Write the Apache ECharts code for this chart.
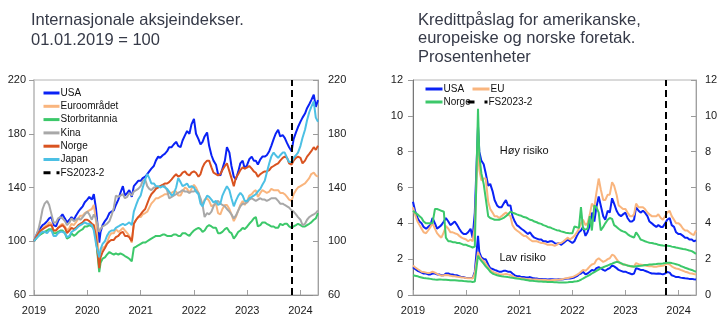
<!DOCTYPE html>
<html><head><meta charset="utf-8">
<script src="https://cdn.jsdelivr.net/npm/echarts@6/dist/echarts.min.js"></script>
<style>html,body{margin:0;padding:0;background:#fff}#c{width:722px;height:327px}</style>
</head><body><div id="c"></div>
<script>
// ---------- categories (semi-monthly observation dates) ----------
const dates = [
'2019-01-01','2019-01-15','2019-02-01','2019-02-15','2019-03-01','2019-03-15','2019-04-01','2019-04-15','2019-05-01','2019-05-15','2019-06-01','2019-06-15','2019-07-01','2019-07-15','2019-08-01','2019-08-15','2019-09-01','2019-09-15','2019-10-01','2019-10-15','2019-11-01','2019-11-15','2019-12-01','2019-12-15',
'2020-01-01','2020-01-15','2020-02-01','2020-02-15','2020-03-01','2020-03-23','2020-04-01','2020-04-15','2020-05-01','2020-05-15','2020-06-01','2020-06-15','2020-07-01','2020-07-15','2020-08-01','2020-08-15','2020-09-01','2020-09-15','2020-10-01','2020-10-15','2020-11-01','2020-11-15','2020-12-01','2020-12-15',
'2021-01-01','2021-01-15','2021-02-01','2021-02-15','2021-03-01','2021-03-15','2021-04-01','2021-04-15','2021-05-01','2021-05-15','2021-06-01','2021-06-15','2021-07-01','2021-07-15','2021-08-01','2021-08-15','2021-09-01','2021-09-15','2021-10-01','2021-10-15','2021-11-01','2021-11-15','2021-12-01','2021-12-15',
'2022-01-01','2022-01-15','2022-02-01','2022-02-15','2022-03-01','2022-03-15','2022-04-01','2022-04-15','2022-05-01','2022-05-15','2022-06-01','2022-06-15','2022-07-01','2022-07-15','2022-08-01','2022-08-15','2022-09-01','2022-09-15','2022-10-01','2022-10-15','2022-11-01','2022-11-15','2022-12-01','2022-12-15',
'2023-01-01','2023-01-15','2023-02-01','2023-02-15','2023-03-01','2023-03-15','2023-04-01','2023-04-15','2023-05-01','2023-05-15','2023-06-01','2023-06-15','2023-07-01','2023-07-15','2023-08-01','2023-08-15','2023-09-01','2023-09-15','2023-10-01','2023-10-15','2023-11-01','2023-11-15','2023-12-01','2023-12-15',
'2024-01-01','2024-01-15','2024-02-01','2024-02-15','2024-03-01','2024-03-15','2024-04-01','2024-04-15','2024-04-30'
];
const xMin = '2019-01-01';
const xMax = '2024-04-30';
const yearTicks = ['2019-01-01','2020-01-01','2021-01-01','2022-01-01','2023-01-01','2024-01-01'];

// ---------- left panel: equity indices (01.01.2019 = 100) ----------
const eqUSA = [
100,104,108,110,112,113,115,117,118,112,111,115,118,120,117,114,116,118,116,119,122,124,126,129,
131,133,131,135,124,99,107,112,115,117,121,122,123,127,131,136,141,134,136,138,133,141,143,145,
145,147,148,150,152,154,156,160,163,162,164,165,167,170,170,172,174,171,170,175,179,182,180,187,
191,180,176,172,174,178,181,171,164,160,157,150,149,154,160,170,166,156,148,146,152,158,160,154,
157,161,163,160,160,157,161,163,163,164,167,171,176,180,183,178,179,177,173,170,167,176,181,185,
189,192,195,199,202,205,209,200,205];
const eqEuro = [
100,103,105,107,109,111,112,114,113,108,108,110,112,113,111,108,110,113,112,114,117,119,119,121,
122,123,124,127,115,84,92,95,96,99,104,106,106,109,107,108,110,108,106,104,99,113,116,118,
118,120,121,122,125,128,130,132,132,133,134,135,135,136,136,137,137,134,134,137,140,139,136,139,
142,140,136,130,127,131,132,130,126,127,128,121,120,124,127,127,124,120,115,118,123,127,130,127,
130,134,135,137,138,133,136,138,137,136,137,139,138,138,138,136,136,135,133,131,130,135,138,140,
141,142,143,145,147,150,151,149,148];
const eqUK = [
100,102,104,105,106,107,108,109,109,106,106,107,108,108,106,102,103,106,104,105,107,108,109,111,
111,112,111,110,102,77,84,87,88,90,92,91,90,91,90,91,90,89,88,87,85,95,96,97,
98,99,99,100,101,102,103,104,104,104,105,105,104,104,104,105,105,104,104,106,106,105,104,106,
108,109,110,109,107,108,111,112,111,110,110,106,106,107,109,110,107,106,102,104,107,108,110,109,
111,113,115,117,118,111,112,114,114,113,112,111,111,110,110,113,112,113,113,111,110,111,112,113,
112,111,111,112,113,114,116,117,121];
const eqChina = [
100,104,109,116,124,128,130,127,120,114,114,117,118,117,115,112,114,117,115,116,117,116,118,120,
122,120,116,120,117,107,109,111,112,113,115,119,125,134,133,134,135,132,133,136,134,137,138,139,
141,145,146,141,139,138,140,140,140,141,142,141,138,132,133,134,135,136,137,138,137,137,136,137,
137,138,136,132,127,118,121,120,122,126,129,130,128,127,126,124,122,120,117,119,123,126,128,128,
129,131,132,131,130,131,132,131,131,130,131,132,132,132,130,128,128,127,126,125,123,122,120,118,
116,112,113,116,118,119,120,121,123];
const eqNorway = [
100,103,106,108,109,110,111,112,112,108,108,110,111,112,110,106,108,110,109,110,112,113,114,116,
116,115,113,112,103,80,88,92,95,98,100,101,101,103,104,106,107,104,104,103,100,113,116,118,
120,122,124,128,132,135,137,139,140,141,142,143,143,144,146,148,150,148,149,151,152,150,149,151,
152,151,148,150,155,158,160,160,155,151,150,149,150,153,156,158,152,147,141,147,150,153,155,154,
155,156,154,152,151,148,150,151,152,152,153,155,156,157,158,160,162,163,162,158,157,160,162,163,
162,158,160,163,165,167,170,168,171];
const eqJapan = [
100,102,104,106,107,107,106,108,108,104,104,106,107,107,106,103,104,107,108,109,111,112,113,114,
113,113,112,108,98,88,94,98,100,104,107,108,108,110,111,112,113,112,113,114,112,122,127,131,
134,140,146,150,147,143,143,141,141,140,141,140,139,137,134,135,140,147,144,141,142,143,140,141,
140,137,135,128,126,130,134,133,131,129,130,127,128,134,138,141,138,132,126,130,134,136,134,130,
130,132,133,134,135,137,139,142,145,151,158,163,166,164,162,164,166,166,162,159,159,162,164,166,
171,177,183,190,196,200,204,192,189];
const leftTicks = [60,100,140,180,220];
const fsDateLeft = '2023-11-03';

// ---------- right panel: credit spreads (percentage points) ----------
const hyUSA = [
5.2,4.7,4.3,4.1,4.0,3.8,3.7,3.8,3.9,4.3,4.0,3.7,3.8,3.9,4.1,4.3,4.1,3.9,4.0,4.1,3.9,3.7,3.5,3.4,
3.4,3.5,3.7,3.2,4.6,9.4,8.0,7.5,7.3,6.8,6.1,6.2,5.8,5.3,5.0,4.9,4.9,5.1,5.3,5.0,5.0,4.4,4.1,3.9,
3.8,3.7,3.6,3.5,3.4,3.5,3.3,3.2,3.15,3.1,3.1,3.0,3.0,2.95,3.0,3.0,2.9,2.85,2.9,2.8,2.9,3.0,3.1,3.0,
2.9,3.0,3.3,3.5,3.6,3.8,3.3,3.5,3.9,4.6,4.1,4.9,5.5,5.0,4.4,4.2,4.7,4.6,5.4,5.1,4.7,4.5,4.4,4.5,
4.6,4.3,4.1,4.1,4.2,4.9,4.7,4.6,4.7,4.6,4.4,4.1,4.0,3.9,3.8,3.9,3.8,3.8,4.0,4.2,4.3,3.9,3.8,3.5,
3.4,3.4,3.3,3.2,3.2,3.1,3.1,3.0,3.05];
const hyEU = [
4.9,4.5,4.1,3.9,3.7,3.5,3.45,3.6,3.8,4.0,3.7,3.45,3.3,3.2,3.5,3.85,3.7,3.5,3.5,3.45,3.4,3.3,3.2,3.15,
3.1,3.0,3.1,3.0,3.8,8.6,7.0,6.4,6.5,6.5,5.2,4.8,4.6,4.4,4.4,4.3,4.4,4.5,4.6,4.5,4.4,3.9,3.7,3.6,
3.5,3.4,3.3,3.3,3.2,3.1,3.0,3.0,3.0,2.95,2.9,2.9,2.85,2.8,2.8,2.8,2.75,2.8,2.9,2.9,3.0,3.1,3.2,3.1,
3.2,3.3,3.5,3.7,4.0,4.2,3.9,4.0,4.5,5.1,4.9,5.7,6.5,5.9,5.3,5.3,5.6,5.6,6.3,6.1,5.6,5.0,4.9,4.8,
4.8,4.6,4.4,4.4,4.5,5.1,4.9,4.9,4.9,4.8,4.6,4.5,4.4,4.4,4.4,4.5,4.3,4.2,4.4,4.6,4.7,4.4,4.2,4.0,
4.0,3.9,3.7,3.6,3.6,3.5,3.4,3.35,3.6];
const hyNorway = [
4.7,4.6,4.5,4.4,4.3,4.1,4.0,4.0,4.0,4.0,4.8,4.8,4.75,4.7,4.65,3.2,3.0,3.0,2.95,2.95,2.9,2.9,2.85,2.8,
2.8,2.75,2.7,2.65,2.7,10.4,7.8,6.8,6.2,5.4,4.4,4.3,4.25,4.2,4.2,4.2,4.25,4.3,4.4,4.5,4.65,4.6,4.55,4.5,
4.45,4.42,4.35,4.33,4.27,4.2,4.17,4.1,4.06,4.0,3.97,3.9,3.86,3.8,3.77,3.72,3.66,3.62,3.6,3.55,3.52,3.48,3.46,3.44,
3.45,3.82,3.78,3.75,4.9,3.7,3.65,3.7,4.4,3.6,5.0,4.9,4.6,3.6,3.8,4.0,4.2,4.3,4.25,3.9,3.8,3.7,3.6,3.55,
3.5,3.4,3.3,3.25,3.2,3.5,3.3,3.1,3.05,3.0,2.95,2.92,2.9,2.87,2.85,2.8,2.78,2.76,2.75,2.75,2.74,2.7,2.68,2.65,
2.62,2.6,2.57,2.55,2.52,2.48,2.45,2.38,2.3];
const igUSA = [
1.55,1.45,1.35,1.3,1.25,1.2,1.2,1.15,1.15,1.2,1.2,1.15,1.15,1.1,1.1,1.2,1.2,1.15,1.15,1.1,1.1,1.05,1.0,1.0,
0.95,0.95,0.95,0.95,1.3,3.3,2.4,2.1,2.0,2.0,1.7,1.5,1.45,1.4,1.35,1.3,1.3,1.35,1.35,1.3,1.3,1.2,1.1,1.05,
1.05,1.0,1.0,0.98,0.97,1.0,0.95,0.93,0.92,0.9,0.9,0.88,0.88,0.87,0.88,0.88,0.87,0.86,0.88,0.87,0.88,0.9,0.92,0.92,
0.95,0.98,1.05,1.15,1.2,1.3,1.15,1.2,1.3,1.4,1.35,1.5,1.55,1.5,1.4,1.35,1.45,1.5,1.65,1.6,1.5,1.4,1.35,1.3,
1.3,1.25,1.2,1.15,1.2,1.5,1.45,1.4,1.4,1.35,1.3,1.25,1.2,1.2,1.18,1.2,1.18,1.15,1.2,1.28,1.25,1.1,1.05,1.0,
1.0,0.97,0.95,0.93,0.92,0.9,0.9,0.88,0.86];
const igEU = [
1.65,1.55,1.45,1.38,1.3,1.28,1.25,1.22,1.25,1.3,1.25,1.18,1.12,1.08,1.1,1.12,1.1,1.08,1.05,1.05,1.02,1.0,0.98,0.97,
0.95,0.94,0.93,0.92,1.2,2.4,2.2,2.0,1.9,1.75,1.55,1.4,1.3,1.25,1.2,1.15,1.15,1.15,1.18,1.15,1.12,1.05,0.98,0.96,
0.95,0.93,0.92,0.9,0.88,0.88,0.87,0.86,0.86,0.85,0.85,0.84,0.84,0.83,0.83,0.84,0.84,0.85,0.86,0.87,0.9,0.93,0.95,0.98,
1.0,1.05,1.12,1.2,1.3,1.4,1.35,1.45,1.6,1.7,1.75,1.95,2.05,1.95,1.85,1.9,2.0,2.05,2.25,2.2,2.0,1.85,1.75,1.7,
1.7,1.65,1.6,1.58,1.6,1.78,1.72,1.7,1.68,1.65,1.62,1.6,1.6,1.58,1.58,1.6,1.62,1.63,1.68,1.75,1.7,1.6,1.52,1.48,
1.45,1.4,1.35,1.3,1.27,1.22,1.2,1.17,1.15];
const igNorway = [
1.1,1.08,1.05,1.0,0.98,0.95,0.93,0.92,0.9,0.88,0.86,0.85,0.87,0.86,0.85,0.85,0.84,0.83,0.82,0.82,0.81,0.8,0.79,0.78,
0.77,0.76,0.75,0.73,0.75,2.2,2.05,1.9,1.75,1.6,1.45,1.3,1.2,1.15,1.1,1.08,1.05,1.03,1.02,1.0,0.98,0.96,0.94,0.92,
0.9,0.88,0.86,0.84,0.82,0.8,0.79,0.78,0.77,0.76,0.75,0.74,0.74,0.73,0.72,0.72,0.71,0.71,0.7,0.7,0.7,0.7,0.71,0.72,
0.73,0.75,0.77,0.8,0.85,0.92,1.0,1.05,1.12,1.2,1.28,1.35,1.42,1.5,1.55,1.6,1.65,1.7,1.75,1.8,1.85,1.83,1.78,1.72,
1.68,1.65,1.62,1.6,1.58,1.6,1.62,1.63,1.65,1.67,1.68,1.7,1.7,1.72,1.73,1.75,1.75,1.76,1.78,1.8,1.8,1.78,1.75,1.72,
1.68,1.62,1.57,1.52,1.48,1.44,1.4,1.35,1.3];
const rightTicks = [0,2,4,6,8,10,12];
const fsDateRight = '2023-10-05';
const annotTexts = ['Høy risiko','Lav risiko'];
const annotDates = ['2020-08-20','2020-08-17'];
const annotValues = [8.04, 2.06];

// ---------- texts ----------
const titleLeft = 'Internasjonale aksjeindekser.\n01.01.2019 = 100';
const titleRight = 'Kredittpåslag for amerikanske,\neuropeiske og norske foretak.\nProsentenheter';
const leftNames = ['USA','Euroområdet','Storbritannia','Kina','Norge','Japan'];
const leftColors = ['#0a22f5','#f9b57e','#3cc86a','#a8a8a8','#d95320','#4cc0e4'];
const rightNames = ['USA','EU','Norge'];
const rightColors = ['#0a22f5','#f9b57e','#3cc86a'];
const fsName = 'FS2023-2';

// ---------- build ----------
const P = v => echarts.time.parse(v).getTime();
const yearTs = yearTicks.map(P);
const pairs = vals => dates.map((d, i) => [P(d), vals[i]]);
const FONT = 'Liberation Sans, Arial, sans-serif';
const strip = n => n.replace(/#.*$/, '');

function xAxisCfg(g) {
  return {
    gridIndex: g, type: 'value', min: P(xMin), max: P(xMax),
    axisLine: {show: true, onZero: false, lineStyle: {color: '#8c8c8c', width: 1}},
    axisTick: {show: true, inside: true, length: 5, customValues: yearTs, lineStyle: {color: '#a0a0a0'}},
    axisLabel: {customValues: yearTs, formatter: v => String(new Date(v).getFullYear()),
      fontSize: 11, color: '#1a1a1a', margin: 10, fontFamily: FONT},
    splitLine: {show: false}
  };
}
function yAxisCfg(g, pos, mn, mx, ticks, lineCol, lineW, margin) {
  return {
    gridIndex: g, type: 'value', position: pos, min: mn, max: mx,
    axisLine: {show: true, onZero: false, lineStyle: {color: lineCol, width: lineW}},
    axisTick: {show: true, inside: pos === 'right', length: 5, customValues: ticks, lineStyle: {color: '#9a9a9a'}},
    axisLabel: {customValues: ticks, fontSize: 11, color: '#1a1a1a', margin: margin, fontFamily: FONT},
    splitLine: {show: false}
  };
}

const series = [];
const leftData = [eqUSA, eqEuro, eqUK, eqChina, eqNorway, eqJapan];
leftNames.forEach((n, i) => series.push({
  name: n, type: 'line', xAxisIndex: 0, yAxisIndex: 0, data: pairs(leftData[i]),
  symbol: 'none', color: leftColors[i], lineStyle: {width: 2, color: leftColors[i]}, z: 2
}));
series.push({
  name: fsName, type: 'line', xAxisIndex: 0, yAxisIndex: 0, data: [], symbol: 'none', color: '#000',
  lineStyle: {width: 2, color: '#000', type: [7, 6]},
  markLine: {silent: true, symbol: ['none', 'none'], label: {show: false},
    lineStyle: {color: '#000', width: 2, type: [7, 4]}, data: [{xAxis: P(fsDateLeft)}]}
});
const hyData = [hyUSA, hyEU, hyNorway];
const igData = [igUSA, igEU, igNorway];
rightNames.forEach((n, i) => {
  series.push({
    name: n + '#r', type: 'line', xAxisIndex: 1, yAxisIndex: 2, data: pairs(hyData[i]),
    symbol: 'none', color: rightColors[i], lineStyle: {width: 2, color: rightColors[i]}, z: 2
  });
});
rightNames.forEach((n, i) => {
  series.push({
    name: n + '#r', type: 'line', xAxisIndex: 1, yAxisIndex: 2, data: pairs(igData[i]),
    symbol: 'none', color: rightColors[i], lineStyle: {width: 2, color: rightColors[i]}, z: 2
  });
});
series.push({
  name: fsName + '#r', type: 'line', xAxisIndex: 1, yAxisIndex: 2, data: [], symbol: 'none', color: '#000',
  lineStyle: {width: 2, color: '#000', type: [7, 10]},
  markLine: {silent: true, symbol: ['none', 'none'], label: {show: false},
    lineStyle: {color: '#000', width: 2, type: [7, 4]}, data: [{xAxis: P(fsDateRight)}]},
  markPoint: {silent: true, symbol: 'circle', symbolSize: 0,
    label: {show: true, position: 'right', distance: 0, color: '#111', fontSize: 11, fontFamily: FONT, formatter: '{b}'},
    data: annotTexts.map((t, i) => ({name: t, coord: [P(annotDates[i]), annotValues[i]]}))}
});

const legendText = {fontSize: 10, color: '#111', fontFamily: FONT, padding: [0, 0, 0, -4]};
const legendItem = {opacity: 0};
const legendLine = {width: 3};
function oneLegend(name, left, top, w) {
  return {data: [name], left: left, top: top, itemWidth: w, itemHeight: 10, padding: 0,
    itemStyle: legendItem, lineStyle: legendLine,
    formatter: strip, textStyle: legendText, selectedMode: false};
}

const option = {
  animation: false,
  backgroundColor: '#fff',
  title: [
    {text: titleLeft, left: 31, top: 10, padding: 0,
      textStyle: {fontSize: 16.5, fontWeight: 'normal', color: '#363a48', lineHeight: 20, fontFamily: FONT}},
    {text: titleRight, left: 418, top: 11, padding: 0,
      textStyle: {fontSize: 16.5, fontWeight: 'normal', color: '#363a48', lineHeight: 18.5, fontFamily: FONT}}
  ],
  grid: [
    {left: 34, right: 404, top: 80, bottom: 32, show: true, borderColor: '#b4b4b4', borderWidth: 1},
    {left: 413, right: 26, top: 80, bottom: 32, show: true, borderColor: '#b4b4b4', borderWidth: 1}
  ],
  legend: [
    {data: leftNames.concat([fsName]), orient: 'vertical', left: 42, top: 88, padding: 0,
      itemWidth: 16, itemHeight: 10, itemGap: 3.3, selectedMode: false,
      itemStyle: legendItem, lineStyle: legendLine, textStyle: legendText},
    oneLegend('USA#r', 424, 84, 17),
    oneLegend('EU#r', 471, 84, 17),
    oneLegend('Norge#r', 424, 97, 17),
    oneLegend(fsName + '#r', 466, 97, 20)
  ],
  xAxis: [xAxisCfg(0), xAxisCfg(1)],
  yAxis: [
    yAxisCfg(0, 'left', 60, 220, leftTicks, '#c8c8c8', 2, 8),
    yAxisCfg(0, 'right', 60, 220, leftTicks, '#a0a0a0', 1, 10),
    yAxisCfg(1, 'left', 0, 12, rightTicks, '#777', 1, 10),
    yAxisCfg(1, 'right', 0, 12, rightTicks, '#a0a0a0', 1, 9)
  ],
  series: series
};
const chart = echarts.init(document.getElementById('c'), null, {renderer: 'canvas'});
chart.setOption(option);
</script>
</body></html>
